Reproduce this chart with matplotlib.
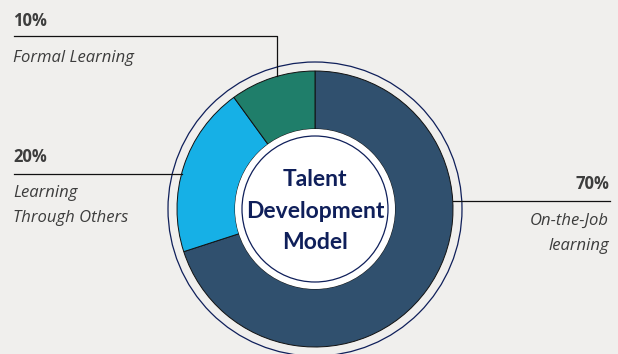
import matplotlib.pyplot as plt
from matplotlib.patches import Circle
import numpy as np

# --- данные --- #
shares = [70, 20, 10]
pct_labels = ['70%', '20%', '10%']
names = ['On-the-Job\nlearning', 'Learning\nThrough Others', 'Formal Learning']
colors = ['#30506e', '#16b0e6', '#1f7e6a']
center_text = 'Talent\nDevelopment\nModel'

W, H = 618, 354
bg = '#f0efed'
navy = '#0f1f5a'
grey = '#3d3d3d'

fig = plt.figure(figsize=(W / 100, H / 100), dpi=100, facecolor=bg)
ax = fig.add_axes([0, 0, 1, 1])
ax.set_facecolor(bg)

cx, cy = 315, H - 209  # центр (y вверх)
R = 138

ax.add_patch(Circle((cx, cy), 147, facecolor='none', edgecolor=navy, lw=0.9, zorder=1))
ax.pie(shares, colors=colors, startangle=90, counterclock=False, center=(cx, cy), radius=R,
       wedgeprops=dict(width=R - 80, edgecolor='#111111', linewidth=0.7), frame=True)
ax.add_patch(Circle((cx, cy), 80, facecolor='white', edgecolor='none', zorder=3))
ax.add_patch(Circle((cx, cy), 73, facecolor='none', edgecolor=navy, lw=0.9, zorder=4))
ax.text(cx, cy - 2, center_text, ha='center', va='center', fontsize=16.5, fontweight='bold',
        color=navy, family='Lato', linespacing=1.62, zorder=5)

# --- подписи и выноски --- #
lk = dict(color='#111111', lw=0.9, zorder=2)
tk = dict(fontsize=12, color=grey, family='Open Sans')
# 10%
x10 = 277
y10 = cy + np.sqrt(R ** 2 - (x10 - cx) ** 2)
ax.plot([14, x10, x10], [H - 36, H - 36, y10], **lk)
ax.text(13, H - 26, pct_labels[2], ha='left', va='baseline', fontweight='bold', **tk)
ax.text(13, H - 62, names[2], ha='left', va='baseline', style='italic', **tk)
# 20%
y20 = H - 174
x20 = cx - np.sqrt(R ** 2 - (y20 - cy) ** 2)
ax.plot([14, x20], [y20, y20], **lk)
ax.text(13, y20 + 12, pct_labels[1], ha='left', va='baseline', fontweight='bold', **tk)
ax.text(13, y20 - 11, names[1], ha='left', va='top', style='italic', linespacing=1.75, **tk)
# 70%
y70 = H - 201
x70 = cx + np.sqrt(R ** 2 - (y70 - cy) ** 2)
ax.plot([x70, 610], [y70, y70], **lk)
ax.text(609, y70 + 12, pct_labels[0], ha='right', va='baseline', fontweight='bold', **tk)
ax.text(609, y70 - 12, names[0], ha='right', va='top', style='italic',
        multialignment='right', linespacing=1.75, **tk)

ax.set_xlim(0, W)
ax.set_ylim(0, H)
ax.set_aspect('equal')
ax.axis('off')
fig.savefig('out.png', dpi=100, facecolor=bg)
